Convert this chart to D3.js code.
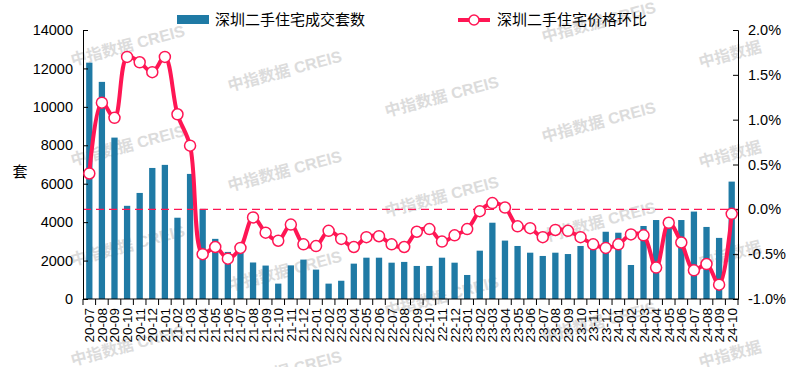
<!DOCTYPE html>
<html>
<head>
<meta charset="utf-8">
<script src="https://cdn.jsdelivr.net/npm/d3@7/dist/d3.min.js"></script>
<style>
  body { margin: 0; background: #fff; }
  svg { display: block; font-family: Arial, "Liberation Sans", "Noto Sans CJK SC", sans-serif; }
</style>
</head>
<body>
<div id="chart"></div>
<script>
// months 2020-07 .. 2024-10
var months = ["20-07","20-08","20-09","20-10","20-11","20-12",
  "21-01","21-02","21-03","21-04","21-05","21-06","21-07","21-08","21-09","21-10","21-11","21-12",
  "22-01","22-02","22-03","22-04","22-05","22-06","22-07","22-08","22-09","22-10","22-11","22-12",
  "23-01","23-02","23-03","23-04","23-05","23-06","23-07","23-08","23-09","23-10","23-11","23-12",
  "24-01","24-02","24-03","24-04","24-05","24-06","24-07","24-08","24-09","24-10"];

// 深圳二手住宅成交套数
var sales = [12300, 11300, 8400, 4850, 5520, 6820,
  6980, 4230, 6510, 4690, 3130, 2450, 2420, 1900, 1740, 800, 1750, 2050,
  1530, 800, 950, 1840, 2150, 2150, 1890, 1930, 1720, 1720, 2150, 1890,
  1250, 2515, 3970, 3040, 2760, 2410, 2240, 2410, 2340, 2760, 2640, 3500,
  3450, 1770, 3800, 4110, 3700, 4110, 4550, 3750, 3180, 6110];

// 深圳二手住宅价格环比 (%)
var priceMoM = [0.40, 1.19, 1.02, 1.70, 1.64, 1.53,
  1.70, 1.06, 0.71, -0.50, -0.42, -0.55, -0.43, -0.09, -0.26, -0.35, -0.17, -0.39,
  -0.41, -0.24, -0.33, -0.42, -0.31, -0.30, -0.39, -0.42, -0.25, -0.22, -0.36, -0.29,
  -0.22, -0.02, 0.07, 0.02, -0.19, -0.21, -0.31, -0.23, -0.24, -0.31, -0.39, -0.43,
  -0.39, -0.28, -0.29, -0.65, -0.15, -0.37, -0.68, -0.61, -0.84, -0.05];

var leftTicks = [0, 2000, 4000, 6000, 8000, 10000, 12000, 14000];
var rightTicks = [-1, -0.5, 0, 0.5, 1, 1.5, 2];

var w = 806, h = 367,
    pL = 83, pR = 738, pT = 30, pB = 299;       // plot area
var barColor = "#1f7aa5", lineColor = "#ff1654";

var svg = d3.select("#chart").append("svg")
    .attr("width", w)
    .attr("height", h);

// watermark, behind everything
var wm = svg.append("g").attr("fill", "#dcdcdc").attr("font-weight", "bold")
    .attr("font-size", 16);
for (var i = 0; i < 5; i++) {
    for (var j = -1; j < 4; j++) {
        var cx = 128 + 157 * i, cy = 45 + 25.5 * i + 100 * j;
        if (cy < 10 || cy > 390) continue;
        wm.append("text")
            .attr("transform", "translate(" + cx + "," + cy + ") rotate(-15)")
            .attr("x", -59).attr("y", 6)
            .text(i == 4 ? "中指数据" : "中指数据 CREIS");
    }
}

var x = d3.scaleBand().domain(months).range([pL, pR])
    .paddingInner(0.5).paddingOuter(0.25);
var step = (pR - pL) / months.length;
var yL = d3.scaleLinear().domain([0, 14000]).range([pB, pT]);
var yR = d3.scaleLinear().domain([-1, 2]).range([pB, pT]);

// bars
svg.append("g").selectAll("rect")
    .data(sales)
    .enter().append("rect")
    .attr("x", (d, i) => x(months[i]))
    .attr("y", d => yL(d))
    .attr("width", x.bandwidth())
    .attr("height", d => pB - yL(d))
    .attr("fill", barColor);

// zero line of the right axis
svg.append("line")
    .attr("x1", pL).attr("x2", pR)
    .attr("y1", yR(0)).attr("y2", yR(0))
    .attr("stroke", lineColor).attr("stroke-width", 1.3)
    .attr("stroke-dasharray", "8,5");

// left axis
var gL = svg.append("g")
    .attr("transform", "translate(" + pL + ",0)")
    .call(d3.axisRight(yL).tickValues(leftTicks).tickSize(5).tickFormat(d3.format("d")));
gL.selectAll("text").attr("x", -10).attr("text-anchor", "end");

// right axis
var gR = svg.append("g")
    .attr("transform", "translate(" + pR + ",0)")
    .call(d3.axisLeft(yR).tickValues(rightTicks).tickSize(5).tickFormat(d => d.toFixed(1) + "%"));
gR.selectAll("text").attr("x", 10).attr("text-anchor", "start");

[gL, gR].forEach(function(g) {
    g.select(".domain").attr("stroke", "#000");
    g.selectAll(".tick line").attr("stroke", "#000");
    g.selectAll("text").attr("font-size", 14.5).attr("fill", "#000")
        .attr("font-family", "Arial, 'Liberation Sans', sans-serif");
});

// x axis: ticks at band edges, labels rotated
var gX = svg.append("g");
gX.append("line")
    .attr("x1", pL).attr("x2", pR)
    .attr("y1", pB).attr("y2", pB)
    .attr("stroke", "#000");
gX.selectAll(".xt")
    .data(d3.range(months.length + 1))
    .enter().append("line")
    .attr("x1", i => pL + i * step).attr("x2", i => pL + i * step)
    .attr("y1", pB).attr("y2", pB + 6)
    .attr("stroke", "#000");
gX.selectAll(".xl")
    .data(months)
    .enter().append("text")
    .attr("transform", d => "translate(" + (x(d) + x.bandwidth() / 2 + 5) + "," + (pB + 9) + ") rotate(-90)")
    .attr("text-anchor", "end")
    .attr("font-size", 13.5)
    .text(d => d);

// y label
svg.append("text")
    .attr("x", 20).attr("y", 177)
    .attr("text-anchor", "middle")
    .attr("font-size", 15)
    .attr("font-family", "'Noto Sans CJK SC', sans-serif")
    .text("套");

// price line
var line = d3.line()
    .x((d, i) => x(months[i]) + x.bandwidth() / 2)
    .y(d => yR(d))
    .curve(d3.curveCatmullRom.alpha(0.5));
svg.append("path")
    .datum(priceMoM)
    .attr("d", line)
    .attr("fill", "none")
    .attr("stroke", lineColor)
    .attr("stroke-width", 4);
svg.append("g").selectAll("circle")
    .data(priceMoM)
    .enter().append("circle")
    .attr("cx", (d, i) => x(months[i]) + x.bandwidth() / 2)
    .attr("cy", d => yR(d))
    .attr("r", 5.5)
    .attr("fill", "#fff")
    .attr("stroke", lineColor)
    .attr("stroke-width", 1.5);

// legend
var lg = svg.append("g").attr("font-size", 15)
    .attr("font-family", "'Noto Sans CJK SC', sans-serif");
lg.append("rect").attr("x", 177).attr("y", 15).attr("width", 32).attr("height", 9)
    .attr("fill", barColor);
lg.append("text").attr("x", 215).attr("y", 25).text("深圳二手住宅成交套数");
lg.append("line").attr("x1", 458).attr("x2", 490).attr("y1", 20).attr("y2", 20)
    .attr("stroke", lineColor).attr("stroke-width", 4);
lg.append("circle").attr("cx", 474).attr("cy", 20).attr("r", 5)
    .attr("fill", "#fff").attr("stroke", lineColor).attr("stroke-width", 1.5);
lg.append("text").attr("x", 497).attr("y", 25).text("深圳二手住宅价格环比");
</script>
</body>
</html>
